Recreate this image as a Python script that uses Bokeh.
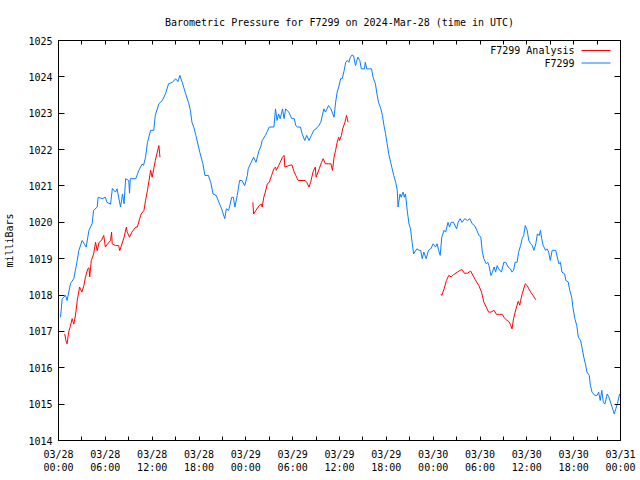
from bokeh.plotting import figure
from bokeh.models import Range1d, FixedTicker, LinearAxis, Label, Arrow
from bokeh.embed import file_html
from bokeh.resources import INLINE

NAN = float("nan")

# Hours since 2024-03-28 00:00 UTC and pressure (mb) of the station F7299
station_hours = [
    0.26, 0.47, 0.9, 1.1, 1.54, 1.96, 2.4, 2.6, 3.03, 3.55, 3.9, 4.3, 4.5, 4.96, 5.08, 5.6,
    6.0, 6.2, 6.67, 6.9, 7.3, 7.5, 7.95, 8.2, 8.4, 8.6, 9.0, 9.1, 9.2, 9.9, 10.3, 10.7,
    10.9, 11.15, 11.4, 11.8, 12.2, 12.4, 12.86, 13.3, 13.7, 14.1, 14.6, 15.0, 15.3, 15.55,
    15.85, 16.3, 16.7, 16.9, 17.1, 17.35, 17.6, 18.1, 18.5, 18.76, 19.2, 19.5, 19.8, 20.2,
    20.55, 20.9, 21.3, 21.5, 21.8, 22.2, 22.4, 22.6, 22.9, 23.2, 23.5, 23.85, 24.2, 24.3,
    24.6, 25.0, 25.3, 25.7, 25.9, 26.1, 26.5, 26.75, 27.0, 27.6, 27.8, 28.0, 28.2, 28.4,
    28.7, 28.9, 29.1, 29.5, 29.9, 30.2, 30.4, 30.6, 31.0, 31.2, 31.55, 31.8, 32.1, 32.4,
    32.7, 33.0, 33.35, 33.6, 34.0, 34.2, 34.4, 34.6, 34.9, 35.3, 35.5, 35.7, 35.9, 36.15,
    36.35, 36.6, 36.8, 37.0, 37.2, 37.35, 37.6, 37.8, 38.05, 38.35, 38.6, 38.8, 39.2, 39.3,
    39.5, 39.7, 40.1, 40.3, 40.6, 40.8, 41.0, 41.3, 41.5, 41.7, 41.9, 42.1, 42.3, 42.55,
    42.75, 42.95, 43.2, 43.4, 43.5, 43.75, 43.9, 44.15, 44.3, 44.45, 44.7, 44.9, 45.1, 45.3,
    45.5, 45.9, 46.2, 46.4, 46.6, 46.8, 47.1, 47.4, 47.7, 48.0, 48.3, 48.5, 48.7, 48.9,
    49.1, 49.4, 49.6, 49.9, 50.1, 50.3, 50.6, 51.0, 51.2, 51.45, 51.7, 52.05, 52.4, 52.7,
    53.0, 53.3, 53.6, 53.85, 54.1, 54.3, 54.5, 54.8, 55.0, 55.15, 55.4, 55.6, 55.8, 56.0,
    56.2, 56.4, 56.75, 57.05, 57.3, 57.6, 57.9, 58.1, 58.3, 58.5, 58.75, 58.95, 59.2, 59.4,
    59.6, 59.8, 60.05, 60.25, 60.5, 60.7, 60.9, 61.15, 61.35, 61.6, 61.75, 61.9, 62.1, 62.4,
    62.6, 62.8, 63.0, 63.25, 63.7, 64.1, 64.3, 64.5, 64.85, 65.0, 65.3, 65.5, 65.75, 65.9,
    66.15, 66.4, 66.6, 66.9, 67.1, 67.3, 67.5, 67.7, 68.0, 68.15, 68.35, 68.7, 69.0, 69.2,
    69.4, 69.6, 69.8, 70.0, 70.3, 70.5, 70.8, 71.0, 71.2, 71.4, 71.6, 71.8, 71.9,
]
station_mb = [
    1017.39, 1017.90, 1017.99, 1017.85, 1018.32, 1018.45, 1018.95, 1019.22, 1019.50, 1019.32,
    1019.78, 1019.96, 1020.33, 1020.42, 1020.69, 1020.65, 1020.69, 1020.55, 1020.50, 1020.93,
    1020.83, 1020.92, 1020.42, 1020.78, 1020.51, 1021.20, 1021.15, 1020.80, 1021.20, 1021.20,
    1021.43, 1021.60, 1021.57, 1021.79, 1022.20, 1022.53, 1022.53, 1022.94, 1023.26, 1023.35,
    1023.53, 1023.81, 1023.85, 1023.95, 1023.87, 1024.04, 1023.85, 1023.53, 1023.26, 1023.07,
    1022.75, 1022.60, 1022.39, 1021.93, 1021.61, 1021.29, 1021.29, 1021.10, 1020.78, 1020.74,
    1020.55, 1020.37, 1020.10, 1020.37, 1020.33, 1020.69, 1020.69, 1020.42, 1020.74, 1021.15,
    1021.15, 1021.01, 1021.29, 1021.47, 1021.61, 1021.79, 1021.65, 1021.98, 1022.07, 1022.25,
    1022.39, 1022.50, 1022.62, 1022.62, 1023.12, 1022.80, 1022.98, 1022.85, 1023.12, 1022.85,
    1023.12, 1023.03, 1022.85, 1022.85, 1022.66, 1022.62, 1022.62, 1022.44, 1022.25, 1022.39,
    1022.25, 1022.39, 1022.53, 1022.57, 1022.66, 1022.75, 1023.12, 1023.03, 1023.12, 1023.21,
    1023.12, 1022.89, 1023.30, 1023.58, 1023.72, 1023.95, 1023.95, 1024.18, 1024.40, 1024.45,
    1024.40, 1024.52, 1024.60, 1024.58, 1024.31, 1024.54, 1024.45, 1024.22, 1024.22, 1024.40,
    1024.22, 1024.22, 1024.22, 1023.99, 1023.81, 1023.53, 1023.30, 1023.12, 1022.94, 1022.66,
    1022.44, 1022.16, 1021.89, 1021.65, 1021.47, 1021.29, 1021.10, 1020.88, 1020.42, 1020.78,
    1020.69, 1020.83, 1020.69, 1020.78, 1020.28, 1019.96, 1019.82, 1019.45, 1019.13, 1019.27,
    1019.23, 1019.23, 1019.00, 1019.18, 1019.00, 1019.23, 1019.27, 1019.41, 1019.32, 1019.41,
    1019.23, 1019.09, 1019.59, 1019.78, 1019.73, 1020.00, 1019.87, 1020.00, 1020.00, 1019.82,
    1020.00, 1020.10, 1020.00, 1020.10, 1020.05, 1020.10, 1019.96, 1019.91, 1019.78, 1019.64,
    1019.60, 1019.18, 1019.00, 1018.86, 1018.90, 1018.81, 1018.54, 1018.63, 1018.77, 1018.63,
    1018.81, 1018.72, 1018.63, 1018.90, 1018.90, 1018.77, 1018.72, 1018.63, 1018.68, 1018.90,
    1018.90, 1019.18, 1019.36, 1019.55, 1019.64, 1019.91, 1019.78, 1019.50, 1019.41, 1019.36,
    1019.23, 1019.41, 1019.68, 1019.64, 1019.78, 1019.55, 1019.36, 1019.23, 1019.27, 1019.18,
    1018.95, 1019.23, 1019.23, 1018.86, 1018.90, 1018.63, 1018.58, 1018.40, 1018.36, 1018.13,
    1017.94, 1017.67, 1017.35, 1017.16, 1016.84, 1016.74, 1016.52, 1016.29, 1016.11, 1015.88,
    1015.79, 1015.51, 1015.33, 1015.24, 1015.24, 1015.33, 1015.10, 1015.38, 1015.05, 1015.00,
    1015.28, 1015.20, 1015.00, 1014.87, 1014.73, 1014.87, 1015.01, 1015.20, 1015.28,
]

# Analysis series (three separate runs, separated by NaN gaps)
analysis_hours = [
    0.8, 0.95, 1.1, 1.3, 1.5, 1.75, 1.96, 2.2, 2.4, 2.7, 3.0, 3.25, 3.45, 3.75, 3.9, 4.0,
    4.2, 4.5, 4.75, 4.96, 5.2, 5.5, 5.8, 6.0, 6.3, 6.67, 6.8, 6.88, 7.3, 7.7, 7.85, 8.0,
    8.4, 8.7, 8.8, 9.1, 9.4, 9.9, 10.1, 10.4, 10.6, 10.95, 11.15, 11.4, 11.6, 11.8, 12.0,
    12.2, 12.4, 12.6, 12.86, 13.0,
    NAN,
    24.9, 25.0, 25.3, 25.7, 26.0, 26.1, 26.3, 26.5, 26.75, 27.0, 27.3, 27.6, 27.8, 27.9,
    28.2, 28.4, 28.7, 28.9, 29.0, 29.5, 29.9, 30.2, 30.4, 30.7, 31.2, 31.6, 31.8, 32.1,
    32.3, 32.6, 32.9, 33.0, 33.4, 33.7, 33.9, 34.2, 34.6, 34.9, 35.1, 35.3, 35.5, 35.7,
    35.9, 36.0, 36.25, 36.4, 36.7, 36.8, 36.9, 37.1,
    NAN,
    49.0, 49.1, 49.4, 49.7, 50.0, 50.3, 50.6, 51.1, 51.45, 51.7, 52.0, 52.4, 52.8, 53.1,
    53.4, 53.85, 54.2, 54.5, 54.8, 55.1, 55.4, 55.8, 56.1, 56.5, 56.85, 57.1, 57.35, 57.7,
    57.9, 58.1, 58.3, 58.5, 58.75, 58.9, 59.1, 59.2, 59.4, 59.6, 59.8, 60.05, 60.25, 60.5,
    60.8, 61.15,
]
analysis_mb = [
    1016.93, 1016.75, 1016.66, 1016.98, 1017.13, 1017.35, 1017.20, 1017.48, 1017.85, 1018.22,
    1018.08, 1018.26, 1018.49, 1018.72, 1018.75, 1018.50, 1018.95, 1019.13, 1019.45, 1019.22,
    1019.45, 1019.50, 1019.64, 1019.32, 1019.41, 1019.50, 1019.73, 1019.41, 1019.36, 1019.36,
    1019.22, 1019.32, 1019.59, 1019.87, 1019.73, 1019.59, 1019.73, 1019.87, 1019.87, 1020.10,
    1020.23, 1020.33, 1020.60, 1020.88, 1021.15, 1021.43, 1021.24, 1021.47, 1021.70, 1021.88,
    1022.11, 1021.79,
    NAN,
    1020.55, 1020.23, 1020.33, 1020.46, 1020.50, 1020.42, 1020.69, 1020.83, 1021.06, 1021.10,
    1021.29, 1021.47, 1021.52, 1021.43, 1021.56, 1021.65, 1021.79, 1021.84, 1021.52, 1021.56,
    1021.58, 1021.38, 1021.29, 1021.15, 1021.15, 1021.15, 1021.10, 1020.97, 1021.10, 1021.38,
    1021.52, 1021.24, 1021.47, 1021.65, 1021.75, 1021.61, 1021.61, 1021.61, 1021.43, 1021.79,
    1021.98, 1022.20, 1022.34, 1022.25, 1022.39, 1022.57, 1022.75, 1022.85, 1022.94, 1022.75,
    NAN,
    1018.03, 1017.99, 1018.17, 1018.40, 1018.54, 1018.50, 1018.56, 1018.63, 1018.68, 1018.70,
    1018.60, 1018.60, 1018.66, 1018.54, 1018.42, 1018.26, 1018.08, 1017.80, 1017.67, 1017.53,
    1017.53, 1017.58, 1017.47, 1017.47, 1017.47, 1017.38, 1017.32, 1017.27, 1017.19, 1017.07,
    1017.35, 1017.53, 1017.72, 1017.83, 1017.72, 1017.85, 1018.03, 1018.17, 1018.31, 1018.26,
    1018.17, 1018.08, 1017.99, 1017.87,
]

x_tick_hours = [0, 6, 12, 18, 24, 30, 36, 42, 48, 54, 60, 66, 72]
x_minor_hours = [3, 9, 15, 21, 27, 33, 39, 45, 51, 57, 63, 69]
x_tick_labels = [
    "03/28\n00:00", "03/28\n06:00", "03/28\n12:00", "03/28\n18:00",
    "03/29\n00:00", "03/29\n06:00", "03/29\n12:00", "03/29\n18:00",
    "03/30\n00:00", "03/30\n06:00", "03/30\n12:00", "03/30\n18:00",
    "03/31\n00:00",
]
y_ticks = [1014, 1015, 1016, 1017, 1018, 1019, 1020, 1021, 1022, 1023, 1024, 1025]

series_names = ["F7299 Analysis", "F7299"]
series_colors = ["#ff0000", "#0a7cff"]

TITLE = "Barometric Pressure for F7299 on 2024-Mar-28 (time in UTC)"
Y_LABEL = "milliBars"
FONT = "DejaVu Sans Mono"
FS = "10px"

p = figure(
    width=640, height=480, output_backend="svg", toolbar_location=None,
    x_range=Range1d(0, 72), y_range=Range1d(1014, 1025),
    min_border_left=58, min_border_right=20, min_border_top=40, min_border_bottom=40,
    title=TITLE,
)
p.background_fill_color = "white"
p.border_fill_color = "white"
p.outline_line_color = "black"
p.outline_line_width = 1
p.grid.visible = False

p.title.text_font = FONT
p.title.text_font_size = FS
p.title.text_font_style = "normal"
p.title.text_color = "black"
p.title.align = "center"
p.title.standoff = 26

xt = FixedTicker(ticks=x_tick_hours, minor_ticks=x_minor_hours)
yt = FixedTicker(ticks=y_ticks, minor_ticks=[])

xa = p.xaxis[0]
xa.ticker = xt
xa.major_label_overrides = {h: lab for h, lab in zip(x_tick_hours, x_tick_labels)}
ya = p.yaxis[0]
ya.ticker = yt
ya.axis_label = Y_LABEL
ya.axis_label_text_font = FONT
ya.axis_label_text_font_size = FS
ya.axis_label_text_font_style = "normal"
ya.axis_label_text_color = "black"
ya.axis_label_standoff = 10

for ax, tin, sto in ((xa, 4, 8), (ya, 6, 6)):
    ax.major_tick_in = tin
    ax.major_tick_out = 0
    ax.minor_tick_in = 4
    ax.minor_tick_out = 0
    ax.major_label_standoff = sto
    ax.major_label_text_font = FONT
    ax.major_label_text_font_size = FS
    ax.major_label_text_color = "black"
    ax.axis_line_color = "black"
    ax.major_tick_line_color = "black"
    ax.minor_tick_line_color = "black"

# mirrored ticks on the top and right borders
top = LinearAxis(ticker=xt, major_tick_in=4, major_tick_out=0, minor_tick_in=4, minor_tick_out=0,
                 major_label_overrides={h: "" for h in x_tick_hours},
                 major_label_standoff=0, major_label_text_font_size="1px",
                 axis_line_color="black")
right = LinearAxis(ticker=yt, major_tick_in=6, major_tick_out=0, minor_tick_in=0, minor_tick_out=0,
                   major_label_overrides={v: "" for v in y_ticks},
                   major_label_standoff=0, major_label_text_font_size="1px",
                   axis_line_color="black")
p.add_layout(top, "above")
p.add_layout(right, "right")

p.line(analysis_hours, analysis_mb, line_color=series_colors[0], line_width=1)
p.line(station_hours, station_mb, line_color=series_colors[1], line_width=1)

# gnuplot-style key: text right-aligned, sample line on its right
for i, (name, col) in enumerate(zip(series_names, series_colors)):
    yk = 390 - 12.5 * i
    p.add_layout(Label(x=516, y=yk, x_units="screen", y_units="screen", text=name,
                       text_align="right", text_baseline="middle",
                       text_font=FONT, text_font_size=FS, text_color="black"))
    p.add_layout(Arrow(x_start=523, y_start=yk, x_end=552, y_end=yk,
                       start_units="screen", end_units="screen", start=None, end=None,
                       line_color=col, line_width=1))

open("out.html", "w").write(file_html(p, INLINE))
